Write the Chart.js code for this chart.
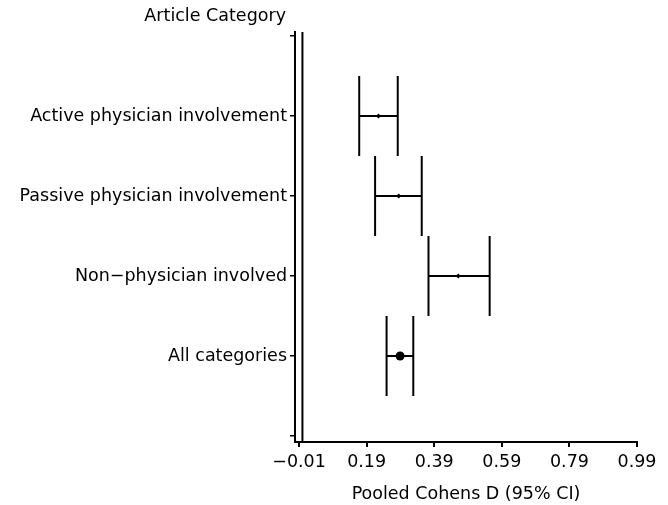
<!DOCTYPE html>
<html>
<head>
<meta charset="utf-8">
<script src="https://cdn.jsdelivr.net/npm/chart.js@4.4.0/dist/chart.umd.min.js"></script>
<style>
  body { margin: 0; background: #fff; }
  #wrap { width: 668px; height: 505px; }
</style>
</head>
<body>
<div id="wrap"><canvas id="myChart" width="668" height="505"></canvas></div>
<script>
const categories = ["Active physician involvement", "Passive physician involvement", "Non\u2212physician involved", "All categories"]
const catPos = [4, 3, 2, 1]
const estimate = [0.225, 0.285, 0.461, 0.289]
const lower = [0.168, 0.215, 0.373, 0.249]
const upper = [0.282, 0.353, 0.554, 0.328]
const markerSize = [2.5, 2.5, 2.5, 4.5]
const xTicks = [-0.01, 0.19, 0.39, 0.59, 0.79, 0.99]

const FONT = "'DejaVu Sans', sans-serif"
const FS = 17.5
const yMin = -0.075, yMax = 5.05
const capHalf = 0.5

const seg = (a, b) => ({
  type: "line",
  data: [a, b],
  borderColor: "#000",
  borderWidth: 2,
  pointRadius: 0,
  showLine: true,
})

const datasets = []
// reference line at zero
datasets.push(seg({ x: 0, y: yMin }, { x: 0, y: yMax }))
categories.forEach((c, i) => {
  const y = catPos[i]
  datasets.push(seg({ x: lower[i], y: y }, { x: upper[i], y: y }))
  datasets.push(seg({ x: lower[i], y: y - capHalf }, { x: lower[i], y: y + capHalf }))
  datasets.push(seg({ x: upper[i], y: y - capHalf }, { x: upper[i], y: y + capHalf }))
})
datasets.push({
  type: "scatter",
  data: estimate.map((v, i) => ({ x: v, y: catPos[i] })),
  pointStyle: estimate.map((v, i) => (i === 3 ? "circle" : "rectRot")),
  pointRadius: markerSize,
  backgroundColor: "#000",
  borderColor: "#000",
  borderWidth: 0,
})

const titlePlugin = {
  id: "catTitle",
  afterDraw(chart) {
    const c = chart.ctx
    c.save()
    c.font = FS + "px " + FONT
    c.fillStyle = "#000"
    c.textAlign = "right"
    c.textBaseline = "middle"
    c.fillText("Article Category", 286, 16)
    c.restore()
  },
}

const ctx = document.getElementById("myChart").getContext("2d")
let myChart = new Chart(ctx, {
  type: "scatter",
  data: { datasets: datasets },
  plugins: [titlePlugin],
  options: {
    responsive: false,
    animation: false,
    devicePixelRatio: 1,
    layout: { padding: { top: 32, right: 31, left: 0, bottom: 0 } },
    plugins: { legend: { display: false }, tooltip: { enabled: false } },
    scales: {
      x: {
        type: "linear",
        min: -0.022,
        max: 0.99,
        afterBuildTicks: (s) => { s.ticks = xTicks.map((v) => ({ value: v })) },
        afterFit: (s) => { s.height = 63 },
        border: { display: true, color: "#000", width: 2 },
        grid: { drawOnChartArea: false, color: "#000", lineWidth: 2, tickLength: 5 },
        ticks: {
          color: "#000",
          font: { family: FONT, size: FS },
          padding: 5,
          maxRotation: 0,
          callback: (v) => (v < 0 ? "\u2212" : "") + Math.abs(v).toFixed(2),
        },
        title: {
          display: true,
          text: "Pooled Cohens D (95% CI)",
          color: "#000",
          font: { family: FONT, size: FS },
          padding: { top: 6, bottom: 0 },
        },
      },
      y: {
        type: "linear",
        min: yMin,
        max: yMax,
        afterBuildTicks: (s) => { s.ticks = [0, 1, 2, 3, 4, 5].map((v) => ({ value: v })) },
        afterFit: (s) => { s.width = 295 },
        border: { display: true, color: "#000", width: 2 },
        grid: { drawOnChartArea: false, color: "#000", lineWidth: 1.5, tickLength: 5 },
        ticks: {
          color: "#000",
          font: { family: FONT, size: FS },
          padding: 3,
          callback: (v) => {
            const i = catPos.indexOf(v)
            return i >= 0 ? categories[i] : ""
          },
        },
      },
    },
  },
})
</script>
</body>
</html>
